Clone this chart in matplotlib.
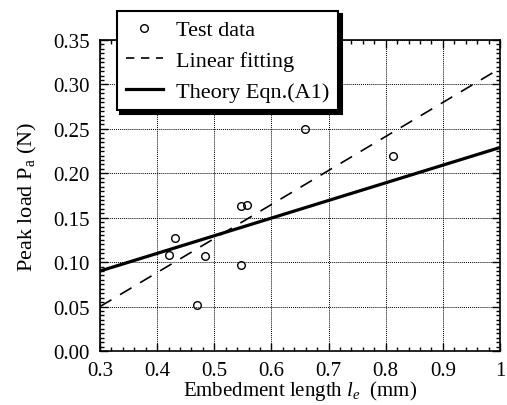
#Peak load vs embedment length: test data, linear fitting and theory curve

import numpy as np
import matplotlib
matplotlib.use('Agg')
import matplotlib.pyplot as plt
from matplotlib.ticker import MultipleLocator

plt.rcParams['font.family'] = 'Liberation Serif'
plt.rcParams['mathtext.fontset'] = 'custom'
plt.rcParams['mathtext.rm'] = 'Liberation Serif'
plt.rcParams['mathtext.it'] = 'Liberation Serif:italic'

# values
test_x = [0.420, 0.432, 0.470, 0.484, 0.546, 0.547, 0.558, 0.659, 0.813]
test_y = [0.108, 0.127, 0.052, 0.107, 0.097, 0.163, 0.164, 0.250, 0.219]
fit_x = [0.30, 1.00]
fit_y = [0.050, 0.318]
theory_x = [0.30, 1.00]
theory_y = [0.090, 0.229]
xticks = [0.3, 0.4, 0.5, 0.6, 0.7, 0.8, 0.9, 1.0]
xticklabels = ['0.3', '0.4', '0.5', '0.6', '0.7', '0.8', '0.9', '1']
yticks = [0.0, 0.05, 0.10, 0.15, 0.20, 0.25, 0.30, 0.35]

fs = 15

fig = plt.figure(figsize=(5.07, 4.06), dpi=100)
ax = fig.add_axes([100/507, 54/406, 400/507, 311/406])

ax.plot(test_x, test_y, 'o', mfc='none', mec='k', ms=5.5, mew=1.0, label='Test data')
ax.plot(fit_x, fit_y, color='k', lw=1.2, dashes=(8, 6), label='Linear fitting')
ax.plot(theory_x, theory_y, color='k', lw=2.3, label='Theory Eqn.(A1)')

ax.set_xlim(0.3, 1.0)
ax.set_ylim(0.0, 0.35)
ax.set_xticks(xticks)
ax.set_xticklabels(xticklabels)
ax.set_yticks(yticks)
ax.set_yticklabels(['%.2f' % v for v in yticks])
ax.xaxis.set_minor_locator(MultipleLocator(0.02))
ax.yaxis.set_minor_locator(MultipleLocator(0.005))
ax.tick_params(which='both', direction='in', top=True, right=True, labelsize=fs, width=1.0)
ax.tick_params(which='major', length=6)
ax.tick_params(which='minor', length=3)
ax.tick_params(axis='x', pad=7)
ax.tick_params(axis='y', pad=7.5)
ax.grid(True, which='major', color='k', ls=(0, (1, 1)), lw=0.7)
for s in ax.spines.values():
	s.set_linewidth(1.2)

ax.set_xlabel('Embedment length $l_e$  (mm)', fontsize=fs, labelpad=-1)
ax.set_ylabel('Peak load P$_{\\rm a}$ (N)', fontsize=16, labelpad=10)

leg = ax.legend(loc='upper left', bbox_to_anchor=(117/507, 1-12/406), bbox_transform=fig.transFigure,
	fontsize=16, fancybox=False, framealpha=1, edgecolor='k', handlelength=1.65,
	labelspacing=0.45, borderpad=0.4, borderaxespad=0, handletextpad=0.6,
	shadow={'color': 'k', 'alpha': 1, 'ox': 2.5, 'oy': -2.5})
leg.get_frame().set_linewidth(1.5)
leg.get_lines()[1].set_dashes((5, 4))

plt.savefig('out.png', dpi=100)
